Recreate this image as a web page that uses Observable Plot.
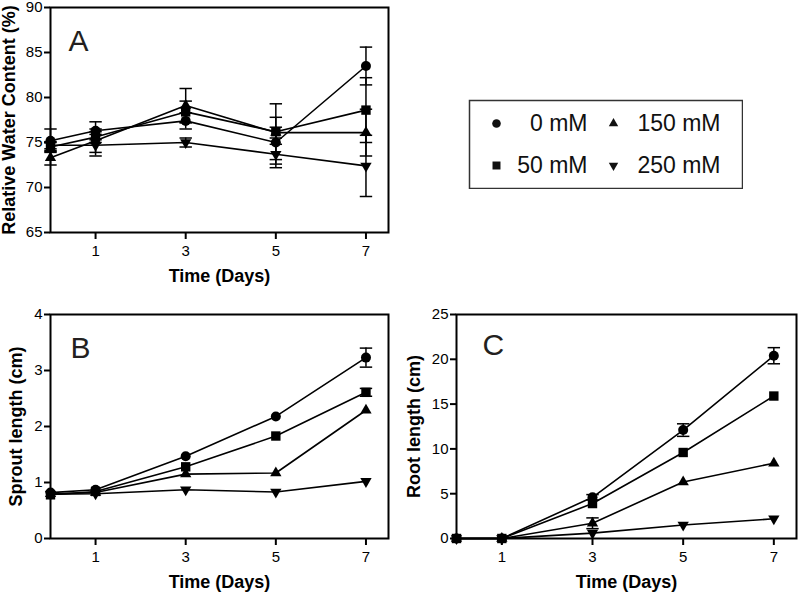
<!DOCTYPE html>
<html><head><meta charset="utf-8">
<script src="https://cdn.jsdelivr.net/npm/d3@7"></script>
<script src="https://cdn.jsdelivr.net/npm/@observablehq/plot@0.6"></script>
<style>
body{margin:0;background:#fff;}
#wrap{position:relative;width:800px;height:592px;overflow:hidden;background:#fff;font-family:"Liberation Sans",Arial,sans-serif;}
#wrap > div{position:absolute;}
</style></head><body><div id="wrap">
<div id="pa" style="left:0;top:0"></div>
<div id="pb" style="left:0;top:290px"></div>
<div id="pc" style="left:400px;top:290px"></div>
<div id="leg" style="left:468px;top:99px"></div>
</div>
<script>
// ---- data ----
const days = [0, 1, 3, 5, 7];
const dayTicks = [1, 3, 5, 7];
const series = ["0 mM", "50 mM", "150 mM", "250 mM"];
const xTitle = "Time (Days)";

// Panel A: Relative water content (%)
const rwc0 = [75.2, 76.3, 77.4, 75.0, 83.5];
const rwc50 = [74.5, 75.6, 78.4, 76.2, 78.6];
const rwc150 = [73.3, 75.2, 79.1, 76.1, 76.1];
const rwc250 = [74.7, 74.7, 75.0, 73.7, 72.4];
const rwcErr0 = [1.3, 1.0, 0.9, 2.8, 2.1];
const rwcErr50 = [0.5, 0.6, 1.2, 3.1, 3.6];
const rwcErr150 = [0.8, 1.3, 1.9, 0.6, 2.6];
const rwcErr250 = [0.4, 1.2, 0.5, 1.1, 3.4];
const rwcTicks = [65, 70, 75, 80, 85, 90];

// Panel B: Sprout length (cm)  (error bars smaller than the symbol are not drawn)
const sprout0 = [0.82, 0.87, 1.47, 2.18, 3.23];
const sprout50 = [0.78, 0.84, 1.28, 1.83, 2.61];
const sprout150 = [0.80, 0.82, 1.15, 1.17, 2.29];
const sprout250 = [0.79, 0.80, 0.87, 0.83, 1.02];
const sproutErr0 = [0, 0, 0, 0, 0.17];
const sproutErr50 = [0, 0, 0, 0, 0.07];
const sproutErr150 = [0, 0, 0, 0, 0];
const sproutErr250 = [0, 0, 0, 0, 0];
const sproutTicks = [0, 1, 2, 3, 4];

// Panel C: Root length (cm)
const root0 = [0, 0, 4.6, 12.1, 20.4];
const root50 = [0, 0, 3.9, 9.6, 15.9];
const root150 = [0, 0, 1.7, 6.3, 8.4];
const root250 = [0, 0, 0.6, 1.5, 2.2];
const rootErr0 = [0, 0, 0.3, 0.7, 0.9];
const rootErr50 = [0, 0, 0, 0, 0];
const rootErr150 = [0, 0, 0.6, 0, 0];
const rootErr250 = [0, 0, 0, 0, 0];
const rootTicks = [0, 5, 10, 15, 20, 25];

// ---- helpers ----
const FONT = "'Liberation Sans', Arial, Helvetica, sans-serif";
const sqrt3 = Math.sqrt(3);
const triDown = {draw(ctx, size) {
  const y = -Math.sqrt(size / (sqrt3 * 3));
  ctx.moveTo(0, -y * 2);
  ctx.lineTo(-sqrt3 * y, y);
  ctx.lineTo(sqrt3 * y, y);
  ctx.closePath();
}};
const cap = {draw(ctx, size) {
  const w = Math.sqrt(size);
  ctx.moveTo(-w / 2, 0);
  ctx.lineTo(w / 2, 0);
}};
const symbols = [d3.symbolCircle, d3.symbolSquare, d3.symbolTriangle, triDown];
const radii = [5, 5.3, 4.2, 4.2];

function rows(vals, errs) {
  return series.flatMap((s, i) => days.map((d, j) => ({day: d, series: s, value: vals[i][j], err: errs[i][j]})));
}

function panel(o) {
  const data = rows(o.values, o.errs);
  const withErr = data.filter(d => d.err > 0);
  return Plot.plot({
    width: o.width, height: o.height,
    marginLeft: o.ml, marginRight: o.mr, marginTop: o.mt, marginBottom: o.mb,
    style: {fontFamily: FONT, fontSize: "15px", color: "black", background: "white", overflow: "visible"},
    x: {domain: [0, 7.5]},
    y: {domain: o.yDomain},
    marks: [
      Plot.axisX({ticks: dayTicks, tickFormat: d => String(d), tickSize: 7, tickPadding: 6, strokeWidth: 2, fontSize: 15, label: null}),
      Plot.axisY({ticks: o.yTicks, tickFormat: d => String(d), tickSize: 6, tickPadding: 2, strokeWidth: 2, fontSize: 15, label: null}),
      Plot.text([xTitle], {frameAnchor: "bottom", dy: 37, lineAnchor: "top", textAnchor: "middle", fontSize: 18, fontWeight: "bold"}),
      Plot.text([o.yLabel], {frameAnchor: "left", rotate: -90, dx: -o.ylOff, lineAnchor: "top", textAnchor: "middle", fontSize: 18, fontWeight: "bold"}),
      Plot.text([o.letter], {frameAnchor: "top-left", dx: o.ldx, dy: o.ldy, lineAnchor: "top", textAnchor: "start", fontSize: 30, fill: "#231f20"}),
      ...series.map(s => Plot.line(data.filter(d => d.series === s), {x: "day", y: "value", stroke: "black", strokeWidth: 1.6})),
      Plot.ruleX(withErr, {x: "day", y1: d => d.value - d.err, y2: d => d.value + d.err, stroke: "black", strokeWidth: 1.5}),
      Plot.dot(withErr, {x: "day", y: d => d.value + d.err, symbol: cap, r: 7, stroke: "black", fill: "none", strokeWidth: 1.5}),
      Plot.dot(withErr, {x: "day", y: d => d.value - d.err, symbol: cap, r: 7, stroke: "black", fill: "none", strokeWidth: 1.5}),
      ...series.map((s, i) => Plot.dot(data.filter(d => d.series === s), {x: "day", y: "value", symbol: symbols[i], r: radii[i], fill: "black", stroke: "none"})),
      Plot.frame({stroke: "black", strokeWidth: 2})
    ]
  });
}

document.getElementById("pa").append(panel({
  width: 400, height: 290, ml: 50, mr: 12, mt: 7, mb: 58,
  values: [rwc0, rwc50, rwc150, rwc250], errs: [rwcErr0, rwcErr50, rwcErr150, rwcErr250],
  yDomain: [65, 90], yTicks: rwcTicks, yLabel: "Relative Water Content (%)", ylOff: 48.5,
  letter: "A", ldx: 18, ldy: 22
}));
document.getElementById("pb").append(panel({
  width: 400, height: 302, ml: 50, mr: 12, mt: 24, mb: 54,
  values: [sprout0, sprout50, sprout150, sprout250], errs: [sproutErr0, sproutErr50, sproutErr150, sproutErr250],
  yDomain: [0, 4], yTicks: sproutTicks, yLabel: "Sprout length (cm)", ylOff: 41,
  letter: "B", ldx: 20, ldy: 22
}));
document.getElementById("pc").append(panel({
  width: 400, height: 302, ml: 56, mr: 4, mt: 24, mb: 54,
  values: [root0, root50, root150, root250], errs: [rootErr0, rootErr50, rootErr150, rootErr250],
  yDomain: [0, 25], yTicks: rootTicks, yLabel: "Root length (cm)", ylOff: 49,
  letter: "C", ldx: 26, ldy: 19
}));

// ---- legend ----
const legData = series.map((s, i) => ({label: s, col: Math.floor(i / 2), row: i % 2, i}));
const legR = [4.3, 4.5, 3.5, 3.5];
document.getElementById("leg").append(Plot.plot({
  width: 275, height: 90, margin: 1,
  style: {fontFamily: FONT, color: "black", background: "white"},
  x: {type: "point", domain: [0, 1], range: [28, 145], padding: 0, axis: null},
  y: {type: "point", domain: [0, 1], range: [24, 66], padding: 0, axis: null},
  marks: [
    Plot.frame({stroke: "#333", strokeWidth: 1.5}),
    ...legData.map(d => Plot.dot([d], {x: "col", y: "row", symbol: symbols[d.i], r: legR[d.i], fill: "#111", stroke: "none"})),
    Plot.text(legData.filter(d => d.col === 0), {x: "col", y: "row", text: "label", textAnchor: "end", dx: 91, fontSize: 23, fill: "#111"}),
    Plot.text(legData.filter(d => d.col === 1), {x: "col", y: "row", text: "label", textAnchor: "end", dx: 107, fontSize: 23, fill: "#111"})
  ]
}));
</script></body></html>
